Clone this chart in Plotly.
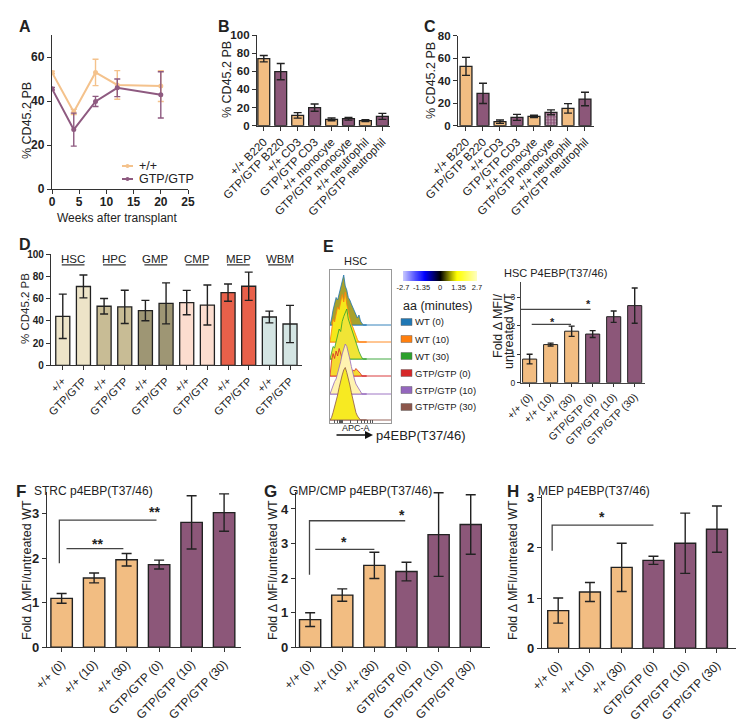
import plotly.graph_objects as go

W, H = 755, 726
FONT = "Liberation Sans, Arial, Helvetica, sans-serif"
ORANGE = "#F2BD82"
PURPLE = "#8C5779"
OUTLINE = "#222222"
AXC = "#333333"

# ---------------- data ----------------
# Panel A
a_weeks = [0, 4, 8, 12, 20]
a_wt = [53.0, 35.0, 53.0, 47.3, 46.8]
a_wt_err = [0.6, 1.2, 6.0, 6.5, 7.0]
a_gtp = [45.6, 27.0, 39.8, 46.0, 42.8]
a_gtp_err = [0.6, 7.5, 2.3, 4.0, 10.5]
a_names = ["+/+", "GTP/GTP"]

# Panels B, C
bc_labels = ["+/+ B220", "GTP/GTP B220", "+/+ CD3", "GTP/GTP CD3",
             "+/+ monocyte", "GTP/GTP monocyte", "+/+ neutrophil", "GTP/GTP neutrophil"]
b_vals = [73.9, 59.6, 11.4, 19.9, 7.0, 7.7, 5.5, 10.3]
b_err = [3.5, 9.0, 3.0, 4.0, 1.5, 1.5, 1.0, 3.3]
c_vals = [52.7, 28.7, 3.6, 7.4, 8.3, 11.9, 15.4, 23.7]
c_err = [8.0, 9.0, 1.5, 2.7, 1.0, 2.2, 4.2, 6.0]

# Panel D
d_groups = ["HSC", "HPC", "GMP", "CMP", "MEP", "WBM"]
d_colors = ["#EDE4C8", "#C8BC95", "#9E9674", "#FCDDCF", "#E8604A", "#D4E5E3"]
d_wt = [44.1, 53.2, 49.3, 56.5, 65.5, 43.5]
d_wt_err = [20.0, 7.0, 9.2, 11.0, 7.8, 5.3]
d_gtp = [71.0, 52.6, 55.8, 54.3, 71.2, 37.2]
d_gtp_err = [10.3, 15.0, 18.5, 18.0, 12.7, 16.8]
d_ticklabels = ["+/+", "GTP/GTP"]

# Panel E flow histograms (normalised modal counts)
hist_names = ["WT (0)", "WT (10)", "WT (30)", "GTP/GTP (0)", "GTP/GTP (10)", "GTP/GTP (30)"]
hist_line = ["#1F77B4", "#FF7F0E", "#2CA02C", "#D62728", "#9467BD", "#8C564B"]
hist_fill = ["#A9A12A", "#F5E81A", "#F0E436", "#F6DA30", "#FFF3B0", "#F7EA22"]
hist_x = [0.00, 0.025, 0.05, 0.075, 0.10, 0.125, 0.15, 0.175, 0.20, 0.225, 0.25, 0.275,
          0.30, 0.325, 0.35, 0.375, 0.40, 0.425, 0.45, 0.475, 0.50, 0.525, 0.55, 0.575, 0.60]
hist_wt0 = [0.00, 0.12, 0.30, 0.42, 0.55, 0.50, 0.62, 0.70, 0.85, 1.00, 0.78, 0.70, 0.55,
            0.50, 0.42, 0.35, 0.30, 0.22, 0.14, 0.20, 0.08, 0.03, 0.00, 0.00, 0.00]
hist_wt10 = [0.00, 0.20, 0.45, 0.40, 0.55, 0.70, 0.65, 0.85, 0.95, 0.80, 1.00, 0.75, 0.60,
             0.50, 0.35, 0.30, 0.20, 0.10, 0.05, 0.00, 0.00, 0.00, 0.00, 0.00, 0.00]
hist_wt30 = [0.00, 0.10, 0.25, 0.22, 0.35, 0.45, 0.60, 0.55, 0.75, 0.85, 0.95, 1.00, 0.80,
             0.70, 0.60, 0.50, 0.40, 0.35, 0.25, 0.15, 0.08, 0.02, 0.00, 0.00, 0.00]
hist_gtp0 = [0.00, 0.30, 0.45, 0.35, 0.50, 0.40, 0.55, 0.45, 0.35, 0.40, 0.30, 0.25, 0.20,
             0.15, 0.10, 0.12, 0.10, 0.15, 0.12, 0.08, 0.05, 0.00, 0.00, 0.00, 0.00]
hist_gtp10 = [0.00, 0.10, 0.20, 0.25, 0.30, 0.40, 0.55, 0.65, 0.80, 0.90, 1.00, 0.95, 0.85,
              0.70, 0.55, 0.40, 0.30, 0.20, 0.15, 0.10, 0.05, 0.00, 0.00, 0.00, 0.00]
hist_gtp30 = [0.00, 0.05, 0.15, 0.25, 0.35, 0.50, 0.65, 0.80, 0.90, 1.00, 1.05, 0.95, 0.85,
              0.70, 0.55, 0.40, 0.25, 0.15, 0.08, 0.03, 0.00, 0.00, 0.00, 0.00, 0.00]
hist_all = [hist_wt0, hist_wt10, hist_wt30, hist_gtp0, hist_gtp10, hist_gtp30]
cb_vals = [-2.7, -2.25, -1.8, -1.35, -0.9, -0.45, 0.0, 0.45, 0.9, 1.35, 1.8, 2.25, 2.7]
cb_ticks = [-2.7, -1.35, 0, 1.35, 2.7]

# Panels E-H bar charts
p_labels = ["+/+ (0)", "+/+ (10)", "+/+ (30)", "GTP/GTP (0)", "GTP/GTP (10)", "GTP/GTP (30)"]
e_vals = [0.83, 1.34, 1.81, 1.71, 2.32, 2.71]
e_err = [0.17, 0.05, 0.18, 0.12, 0.20, 0.62]
f_vals = [1.10, 1.56, 1.97, 1.86, 2.81, 3.03]
f_err = [0.11, 0.11, 0.14, 0.10, 0.60, 0.42]
g_vals = [0.80, 1.51, 2.37, 2.19, 3.26, 3.55]
g_err = [0.20, 0.18, 0.38, 0.27, 1.21, 0.86]
h_vals = [0.75, 1.12, 1.61, 1.75, 2.09, 2.37]
h_err = [0.25, 0.19, 0.48, 0.08, 0.60, 0.46]
p_colors = [ORANGE, ORANGE, ORANGE, PURPLE, PURPLE, PURPLE]

# significance brackets: (x_left, x_right, y, y_drop_left or None), stars: (x, y, text)
e_brackets = [(-0.5, 2.9, 2.58, 1.5), (0.1, 1.97, 2.05, None)]
e_stars = [(2.82, 2.87, "*"), (1.1, 2.25, "*")]
f_brackets = [(-0.07, 2.92, 2.86, 1.89), (0.15, 1.9, 2.22, None)]
f_stars = [(2.87, 3.11, "**"), (1.1, 2.40, "**")]
g_brackets = [(-0.02, 2.96, 3.66, 2.10), (0.16, 2.0, 2.83, None)]
g_stars = [(2.87, 3.90, "*"), (1.06, 3.13, "*")]
h_brackets = [(-0.19, 3.0, 2.45, 1.94)]
h_stars = [(1.38, 2.67, "*")]

# ---------------- helpers ----------------
def px_x(l, r):
    return [l / W, r / W]


def px_y(t, b):
    return [1 - b / H, 1 - t / H]


def PX(x):
    return x / W


def PY(y):
    return 1 - y / H


base_axis = dict(showgrid=False, zeroline=False, showline=True, linecolor=AXC, linewidth=1.3,
                 ticks="outside", ticklen=4, tickwidth=1.2, tickcolor=AXC, automargin=False)

layout = dict(width=W, height=H, margin=dict(l=0, r=0, t=0, b=0, autoexpand=False),
              paper_bgcolor="white", plot_bgcolor="white",
              font=dict(family=FONT, color="#222"))


def add_axes(n, xdom, ydom, xkw, ykw):
    xs = "xaxis" if n == 1 else f"xaxis{n}"
    ys = "yaxis" if n == 1 else f"yaxis{n}"
    ax = "x" if n == 1 else f"x{n}"
    ay = "y" if n == 1 else f"y{n}"
    layout[xs] = dict(base_axis, domain=px_x(*xdom), anchor=ay, **xkw)
    layout[ys] = dict(base_axis, domain=px_y(*ydom), anchor=ax, **ykw)
    return ax, ay


def bold(size):
    return dict(size=size, weight="bold", color="#222")


fig = go.Figure()
annotations = []
shapes = []


def text(x, y, s, size=12, weight="normal", angle=0, xanchor="center", yanchor="middle", color="#222"):
    annotations.append(dict(x=PX(x), y=PY(y), xref="paper", yref="paper", text=s, showarrow=False,
                            font=dict(size=size, weight=weight, color=color, family=FONT),
                            textangle=angle, xanchor=xanchor, yanchor=yanchor))


# ---------------- Panel A ----------------
A_WT_C = "#F4C28C"
A_GTP_C = "#8E5A80"
ax, ay = add_axes(1, (52, 188), (35, 189),
                  dict(range=[0, 25], tickvals=[0, 5, 10, 15, 20, 25], tickfont=bold(12),
                       ticklabelstandoff=-3),
                  dict(range=[0, 70], tickvals=[0, 20, 40, 60], tickfont=bold(12)))
for yv, ev, col, nm in [(a_wt, a_wt_err, A_WT_C, a_names[0]), (a_gtp, a_gtp_err, A_GTP_C, a_names[1])]:
    fig.add_trace(go.Scatter(x=a_weeks, y=yv, mode="lines+markers", name=nm, showlegend=False,
                             line=dict(color=col, width=2), marker=dict(size=5, color=col),
                             error_y=dict(type="data", array=ev, color=col, thickness=1.4, width=3),
                             xaxis=ax, yaxis=ay))
# legend (drawn manually to match compact key)
for ly, col, nm in [(166, A_WT_C, a_names[0]), (179, A_GTP_C, a_names[1])]:
    shapes.append(dict(type="line", xref="paper", yref="paper", x0=PX(122), x1=PX(133),
                       y0=PY(ly), y1=PY(ly), line=dict(color=col, width=2)))
    shapes.append(dict(type="circle", xref="paper", yref="paper", x0=PX(125.5), x1=PX(129.5),
                       y0=PY(ly + 2), y1=PY(ly - 2), fillcolor=col, line=dict(color=col, width=0)))
    text(137, ly, nm, 12.5, xanchor="left")
text(25, 26, "A", 16, "bold")
text(27, 121, "% CD45.2 PB", 12.5, angle=-90)
text(117, 218, "Weeks after transplant", 12)


def bar_trace(ax, ay, vals, errs, colors, width, lw=1.3, errw=4, pattern=None, xs=None):
    marker = dict(color=colors, line=dict(color=OUTLINE, width=lw))
    if pattern is not None:
        marker["pattern"] = pattern
    return go.Bar(x=xs if xs is not None else list(range(len(vals))), y=vals, width=width,
                  marker=marker, showlegend=False,
                  error_y=dict(type="data", array=errs, color=OUTLINE, thickness=1.4, width=errw),
                  xaxis=ax, yaxis=ay)


bc_colors = [ORANGE, PURPLE] * 4

# ---------------- Panel B ----------------
ax, ay = add_axes(2, (257, 390), (35, 125.7),
                  dict(range=[-0.4, 7.45], tickvals=list(range(8)), ticktext=bc_labels, tickangle=-45,
                       tickfont=dict(size=11.5, color="#222")),
                  dict(range=[0, 100], tickvals=[0, 20, 40, 60, 80, 100], tickfont=bold(11.5)))
fig.add_trace(bar_trace(ax, ay, b_vals, b_err, bc_colors, 0.7))
text(224, 26, "B", 16, "bold")
text(227, 80, "% CD45.2 PB", 12.5, angle=-90)

# ---------------- Panel C ----------------
ax, ay = add_axes(3, (458, 594), (35.7, 125.7),
                  dict(range=[-0.47, 7.53], tickvals=list(range(8)), ticktext=bc_labels, tickangle=-45,
                       tickfont=dict(size=11.5, color="#222")),
                  dict(range=[0, 80], tickvals=[0, 20, 40, 60, 80], tickfont=bold(11.5)))
c_pattern = dict(shape=["", "", "", "", "", ".", "", ""], fgcolor="#3E2236", size=3, solidity=0.3)
fig.add_trace(bar_trace(ax, ay, c_vals, c_err, bc_colors, 0.7, pattern=c_pattern))
text(430, 26, "C", 16, "bold")
text(431, 80, "% CD45.2 PB", 12.5, angle=-90)

# ---------------- Panel D ----------------
d_vals, d_errs, d_cols, d_ticks = [], [], [], []
for i in range(len(d_groups)):
    d_vals += [d_wt[i], d_gtp[i]]
    d_errs += [d_wt_err[i], d_gtp_err[i]]
    d_cols += [d_colors[i], d_colors[i]]
    d_ticks += d_ticklabels
ax, ay = add_axes(4, (51, 302), (254.3, 365.3),
                  dict(range=[-0.57, 11.58], tickvals=list(range(12)), ticktext=d_ticks, tickangle=-45,
                       tickfont=dict(size=11, color="#222")),
                  dict(range=[0, 100], tickvals=[0, 20, 40, 60, 80, 100], tickfont=bold(10)))
fig.add_trace(bar_trace(ax, ay, d_vals, d_errs, d_cols, 0.68))
ul_x, ul_y = [], []
for i, g in enumerate(d_groups):
    ul_x += [2 * i - 0.05, 2 * i + 1.05, None]
    ul_y += [90.5, 90.5, None]
    annotations.append(dict(x=2 * i + 0.5, y=95.5, xref=ax, yref=ay, text=g, showarrow=False,
                            font=dict(size=11.5, family=FONT, color="#222")))
fig.add_trace(go.Scatter(x=ul_x, y=ul_y, mode="lines", line=dict(color=AXC, width=1.2),
                         showlegend=False, xaxis=ax, yaxis=ay, hoverinfo="skip"))
text(25, 244, "D", 16, "bold")
text(25, 309, "% CD45.2 PB", 11.5, angle=-90)

# ---------------- Panel E: flow histograms ----------------
ax, ay = add_axes(5, (330, 391), (270, 423),
                  dict(range=[0, 1], mirror=True, linecolor="#999", linewidth=1, ticks="inside", ticklen=3,
                       tickwidth=1, tickcolor="#555",
                       tickvals=[0.08, 0.12, 0.15, 0.17, 0.19, 0.21, 0.33, 0.45, 0.52, 0.57, 0.62, 0.66, 0.70],
                       showticklabels=False),
                  dict(range=[0, 153], mirror=True, linecolor="#999", linewidth=1, ticks="",
                       showticklabels=False))
hist_base = [98, 81, 64, 47, 29, 3]
for k in range(6):
    base = hist_base[k]
    fig.add_trace(go.Scatter(x=[0, 1], y=[base, base], mode="lines", line=dict(color=hist_line[k], width=0.9),
                             showlegend=False, xaxis=ax, yaxis=ay, hoverinfo="skip"))
    xs = hist_x + hist_x[::-1]
    ys = [base + 50 * v for v in hist_all[k]] + [base] * len(hist_x)
    fig.add_trace(go.Scatter(x=xs, y=ys, mode="lines", fill="toself", fillcolor=hist_fill[k],
                             line=dict(color=hist_line[k], width=0.8), showlegend=False,
                             xaxis=ax, yaxis=ay, hoverinfo="skip"))
text(328, 246, "E", 16, "bold")
text(355, 261, "HSC", 11)
text(356, 428, "APC-A", 9)
annotations.append(dict(x=PX(373), y=PY(435), xref="paper", yref="paper", ax=-38, ay=0, text="",
                        showarrow=True, arrowhead=2, arrowsize=1, arrowwidth=1.6, arrowcolor="#111"))
text(374, 435, "p4EBP(T37/46)", 13, xanchor="left")

# colour scale bar
ax, ay = add_axes(6, (403, 477), (271, 281),
                  dict(range=[-2.7, 2.7], tickvals=cb_ticks, ticktext=["-2.7", "-1.35", "0", "1.35", "2.7"],
                       showline=False, ticks="", tickfont=dict(size=7.5, color="#222")),
                  dict(range=[0, 1], showline=False, ticks="", showticklabels=False))
fig.add_trace(go.Heatmap(x=cb_vals, y=[0, 1], z=[cb_vals, cb_vals], zsmooth="best", showscale=False,
                         colorscale=[[0, "#C4C4FF"], [0.28, "#0000FF"], [0.5, "#000000"],
                                     [0.72, "#FFFF00"], [1, "#FFFFC4"]],
                         zmin=-2.7, zmax=2.7, xaxis=ax, yaxis=ay, hoverinfo="skip"))
text(401, 306, "aa (minutes)", 12.5, xanchor="left")
leg_y = [322, 339, 356, 373, 390, 407]
for k in range(6):
    shapes.append(dict(type="rect", xref="paper", yref="paper", x0=PX(401), x1=PX(412),
                       y0=PY(leg_y[k] + 3.5), y1=PY(leg_y[k] - 3.5), fillcolor=hist_line[k],
                       line=dict(color="#666", width=0.5)))
    text(413, leg_y[k], hist_names[k], 9.5, xanchor="left")


def add_brackets(ax, ay, brackets, stars, size=14):
    bx, by = [], []
    for (xl, xr, y, yd) in brackets:
        if yd is None:
            bx += [xl, xr, None]
            by += [y, y, None]
        else:
            bx += [xl, xl, xr, None]
            by += [yd, y, y, None]
    fig.add_trace(go.Scatter(x=bx, y=by, mode="lines", line=dict(color="#444", width=1.3),
                             showlegend=False, xaxis=ax, yaxis=ay, hoverinfo="skip"))
    for (x, y, s) in stars:
        annotations.append(dict(x=x, y=y, xref=ax, yref=ay, text=s, showarrow=False, yshift=-3,
                                font=dict(size=size, weight="bold", family=FONT, color="#222")))


# ---------------- Panel E: bar chart ----------------
ax, ay = add_axes(7, (521, 645), (281.7, 382.7),
                  dict(range=[-0.41, 5.49], tickvals=list(range(6)), ticktext=p_labels, tickangle=-45,
                       tickfont=dict(size=10.5, color="#222"), linewidth=1, linecolor="#444", ticklen=3),
                  dict(range=[0, 3.55], tickvals=[0, 1, 2, 3], tickfont=dict(size=8.5, color="#222"),
                       linewidth=1, linecolor="#444", ticklen=3))
fig.add_trace(bar_trace(ax, ay, e_vals, e_err, p_colors, 0.67, lw=1, errw=3))
add_brackets(ax, ay, e_brackets, e_stars, size=11)
text(555, 273, "HSC P4EBP(T37/46)", 11)
text(498, 326, "Fold Δ MFI/", 12.5, angle=-90)
text(509, 331, "untreated WT", 12.5, angle=-90)

# ---------------- Panels F, G, H ----------------
for n, (xd, yd, rng, tv, vals, errs, brs, sts, letter, lx, title, tx, ytx) in enumerate([
        ((47, 241), (491.7, 647.3), [-0.45, 5.52], [0, 3.5], f_vals, f_err, f_brackets, f_stars,
         "F", 21, "STRC p4EBP(T37/46)", 93, 27),
        ((296, 490), (491.7, 647.3), [-0.44, 5.6], [0, 4.5], g_vals, g_err, g_brackets, g_stars,
         "G", 270, "GMP/CMP p4EBP(T37/46)", 360, 273),
        ((542, 736), (495, 648.3), [-0.51, 5.6], [0, 3.05], h_vals, h_err, h_brackets, h_stars,
         "H", 513, "MEP p4EBP(T37/46)", 594, 513)], start=8):
    ax, ay = add_axes(n, xd, yd,
                      dict(range=rng, tickvals=list(range(6)), ticktext=p_labels, tickangle=-45,
                           tickfont=dict(size=12, color="#222")),
                      dict(range=tv, dtick=1, tick0=0, tickfont=bold(13)))
    fig.add_trace(bar_trace(ax, ay, vals, errs, p_colors, 0.66, lw=1.4, errw=5))
    add_brackets(ax, ay, brs, sts, size=14)
    text(lx, 491, letter, 17, "bold")
    text(tx, 491, title, 12)
    text(ytx, 570, "Fold Δ MFI/untreated WT", 12.5, angle=-90)

layout["annotations"] = annotations
layout["shapes"] = shapes
layout["showlegend"] = False
layout["bargap"] = 0.3
fig.update_layout(**layout)
fig.write_html("out.html", config={"displayModeBar": False},
               post_script="document.body.style.margin='0px';document.body.style.padding='0px';")
